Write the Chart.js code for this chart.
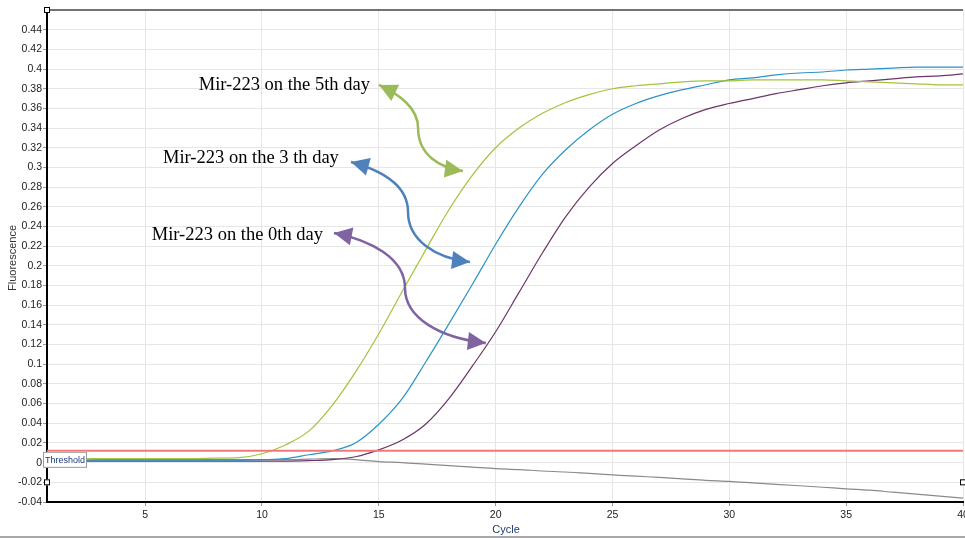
<!DOCTYPE html>
<html>
<head>
<meta charset="utf-8">
<script src="https://cdn.jsdelivr.net/npm/chart.js@4/dist/chart.umd.min.js"></script>
<style>
  html, body { margin: 0; padding: 0; background: #fff; }
  #wrap { width: 965px; height: 538px; }
</style>
</head>
<body>
<div id="wrap"><canvas id="chart" width="965" height="538"></canvas></div>
<script>
// cycles 1..40
const cycles = [1, 2, 3, 4, 5, 6, 7, 8, 9, 10, 11, 12, 13, 14, 15, 16, 17, 18, 19, 20,
    21, 22, 23, 24, 25, 26, 27, 28, 29, 30, 31, 32, 33, 34, 35, 36, 37, 38, 39, 40]

const day5 = [0.004, 0.004, 0.004, 0.004, 0.004, 0.004, 0.004, 0.0045, 0.005, 0.009,
    0.018, 0.032, 0.058, 0.092, 0.131, 0.174, 0.216, 0.257, 0.292, 0.320,
    0.340, 0.355, 0.366, 0.374, 0.380, 0.383, 0.385, 0.387, 0.388, 0.388,
    0.389, 0.389, 0.389, 0.389, 0.388, 0.387, 0.386, 0.385, 0.384, 0.384]

const day3 = [0.0025, 0.0025, 0.0025, 0.0025, 0.0025, 0.0025, 0.0025, 0.0025, 0.0025, 0.003,
    0.004, 0.008, 0.012, 0.020, 0.039, 0.065, 0.102, 0.141, 0.181, 0.222,
    0.260, 0.293, 0.318, 0.338, 0.354, 0.365, 0.373, 0.379, 0.384, 0.389,
    0.391, 0.394, 0.396, 0.397, 0.399, 0.400, 0.401, 0.402, 0.402, 0.402]

const day0 = [0.0015, 0.0015, 0.0015, 0.0015, 0.0015, 0.0015, 0.0015, 0.0015, 0.0015, 0.0015,
    0.0015, 0.002, 0.003, 0.006, 0.013, 0.023, 0.039, 0.065, 0.098, 0.133,
    0.173, 0.213, 0.250, 0.280, 0.304, 0.322, 0.338, 0.350, 0.359, 0.365,
    0.370, 0.375, 0.379, 0.383, 0.386, 0.388, 0.390, 0.392, 0.393, 0.395]

const blank = [-0.004, 0.001, 0.003, 0.003, 0.003, 0.003, 0.003, 0.003, 0.003, 0.003,
    0.003, 0.0035, 0.004, 0.003, 0.001, 0, -0.0015, -0.003, -0.0045, -0.006,
    -0.007, -0.0085, -0.0095, -0.011, -0.0124, -0.0138, -0.015, -0.0165, -0.018, -0.019,
    -0.0205, -0.022, -0.0235, -0.025, -0.0266, -0.028, -0.030, -0.032, -0.034, -0.036]

const threshold = 0.012

const xTicks = [5, 10, 15, 20, 25, 30, 35, 40]
const yTicks = [-0.04, -0.02, 0, 0.02, 0.04, 0.06, 0.08, 0.1, 0.12, 0.14, 0.16, 0.18, 0.2,
    0.22, 0.24, 0.26, 0.28, 0.3, 0.32, 0.34, 0.36, 0.38, 0.4, 0.42, 0.44]

// annotation labels and arrows, in (cycle, fluorescence) units
// each arrow: start, ctrl, ctrl, middle, ctrl, ctrl, end (two cubic pieces)
const labels = ["Mir-223 on the 5th day", "Mir-223 on the 3 th day", "Mir-223 on the 0th day"]
const labelAnchors = [[14.62, 0.3787], [13.29, 0.3042], [12.61, 0.2263]]
const arrowColors = ["#9bbb59", "#4f81bd", "#8064a2"]
const arrowPaths = [
    [[15.01, 0.3838], [15.90, 0.3736], [16.68, 0.3604], [16.68, 0.3401], [16.68, 0.3126], [17.62, 0.2994], [18.6, 0.2964]],
    [[13.81, 0.3055], [15.05, 0.2974], [16.25, 0.2822], [16.25, 0.2547], [16.25, 0.2263], [17.40, 0.208], [18.9, 0.2039]],
    [[13.08, 0.2334], [14.62, 0.2263], [16.12, 0.208], [16.12, 0.1775], [16.12, 0.147], [17.62, 0.1267], [19.58, 0.1216]],
]

const tickFont = { family: "'Liberation Sans', Arial, sans-serif", size: 10.5 }

function toPoints(values) {
    return values.map((v, i) => ({ x: cycles[i], y: v }))
}

function drawHead(ctx, tip, from, color) {
    const ang = Math.atan2(tip.y - from.y, tip.x - from.x)
    const len = 18, half = 9
    ctx.save()
    ctx.translate(tip.x, tip.y)
    ctx.rotate(ang)
    ctx.beginPath()
    ctx.moveTo(0, 0)
    ctx.lineTo(-len, -half)
    ctx.lineTo(-len, half)
    ctx.closePath()
    ctx.fillStyle = color
    ctx.fill()
    ctx.restore()
}

const decorations = {
    id: "decorations",
    afterDatasetsDraw(chart) {
        const ctx = chart.ctx
        const { left, right, top } = chart.chartArea
        const xs = chart.scales.x, ys = chart.scales.y

        ctx.save()
        // top border
        ctx.strokeStyle = "#444"
        ctx.lineWidth = 1.5
        ctx.beginPath()
        ctx.moveTo(left, top)
        ctx.lineTo(right, top)
        ctx.stroke()

        // threshold box
        const ty = ys.getPixelForValue(threshold)
        ctx.fillStyle = "#fff"
        ctx.fillRect(left - 4, ty + 1, 44, 16)
        ctx.strokeStyle = "#9a9a9a"
        ctx.lineWidth = 1
        ctx.strokeRect(left - 3.5, ty + 1.5, 43, 15)
        ctx.fillStyle = "#1f3a7a"
        ctx.font = "9px 'Liberation Sans', Arial, sans-serif"
        ctx.textAlign = "left"
        ctx.textBaseline = "middle"
        ctx.fillText("Threshold", left - 2, ty + 9.5)

        // handles
        const handles = [[left, top], [left, ys.getPixelForValue(-0.02)], [right, ys.getPixelForValue(-0.02)]]
        handles.forEach(([hx, hy]) => {
            ctx.fillStyle = "#fff"
            ctx.fillRect(hx - 3, hy - 3, 6, 6)
            ctx.strokeStyle = "#000"
            ctx.strokeRect(hx - 2.5, hy - 2.5, 5, 5)
        })

        // annotation arrows
        arrowPaths.forEach((path, i) => {
            const p = path.map(([c, v]) => ({ x: xs.getPixelForValue(c), y: ys.getPixelForValue(v) }))
            ctx.strokeStyle = arrowColors[i]
            ctx.lineWidth = 2.5
            ctx.beginPath()
            ctx.moveTo(p[0].x, p[0].y)
            ctx.bezierCurveTo(p[1].x, p[1].y, p[2].x, p[2].y, p[3].x, p[3].y)
            ctx.bezierCurveTo(p[4].x, p[4].y, p[5].x, p[5].y, p[6].x, p[6].y)
            ctx.stroke()
            drawHead(ctx, p[0], p[1], arrowColors[i])
            drawHead(ctx, p[6], p[5], arrowColors[i])
        })

        // annotation labels
        ctx.fillStyle = "#000"
        ctx.font = "18.5px 'Liberation Serif', 'Times New Roman', serif"
        ctx.textAlign = "right"
        ctx.textBaseline = "alphabetic"
        labels.forEach((t, i) => {
            ctx.fillText(t, xs.getPixelForValue(labelAnchors[i][0]), ys.getPixelForValue(labelAnchors[i][1]))
        })

        // axis titles
        ctx.font = "11px 'Liberation Sans', Arial, sans-serif"
        ctx.textAlign = "center"
        ctx.textBaseline = "middle"
        ctx.fillStyle = "#1f3a6e"
        ctx.fillText("Cycle", (left + right) / 2 + 1, 530)
        ctx.save()
        ctx.translate(13, 258)
        ctx.rotate(-Math.PI / 2)
        ctx.fillStyle = "#333"
        ctx.fillText("Fluorescence", 0, 0)
        ctx.restore()

        // bottom frame line
        ctx.fillStyle = "#a8a8a8"
        ctx.fillRect(0, 536, 965, 2)
        ctx.restore()
    }
}

const lineStyle = {
    borderWidth: 1.2,
    pointRadius: 0,
    fill: false,
    cubicInterpolationMode: "monotone",
}

new Chart(document.getElementById("chart"), {
    type: "line",
    data: {
        datasets: [
            { label: "5th day", data: toPoints(day5), borderColor: "#a2c43a", order: 2, ...lineStyle },
            { label: "3rd day", data: toPoints(day3), borderColor: "#2c93c6", order: 3, ...lineStyle },
            { label: "0th day", data: toPoints(day0), borderColor: "#6d3568", order: 4, ...lineStyle },
            { label: "blank", data: toPoints(blank), borderColor: "#8a8a8a", order: 5, ...lineStyle },
            {
                label: "Threshold",
                data: [{ x: 0.8, y: threshold }, { x: 40, y: threshold }],
                borderColor: "#f07878", borderWidth: 2, pointRadius: 0, order: 1,
            },
        ],
    },
    options: {
        responsive: false,
        animation: false,
        layout: { padding: { top: 10, right: 2, left: 0, bottom: 0 } },
        plugins: {
            legend: { display: false },
            tooltip: { enabled: false },
        },
        scales: {
            x: {
                type: "linear",
                min: 0.8,
                max: 40,
                afterBuildTicks: (scale) => { scale.ticks = xTicks.map(v => ({ value: v })) },
                afterFit: (scale) => { scale.height = 36; scale.paddingLeft = 0; scale.paddingRight = 0 },
                ticks: { font: tickFont, color: "#222", padding: 3, maxRotation: 0 },
                grid: { color: "#e6e6e6", lineWidth: 1, tickLength: 4, tickColor: "#999" },
                border: { color: "#000", width: 2 },
            },
            y: {
                min: -0.04,
                max: 0.46,
                afterBuildTicks: (scale) => { scale.ticks = yTicks.map(v => ({ value: v })) },
                afterFit: (scale) => { scale.width = 47; scale.paddingTop = 0; scale.paddingBottom = 0 },
                ticks: {
                    font: tickFont, color: "#222", padding: 1,
                    callback: (v) => String(Math.round(v * 100) / 100),
                },
                grid: { color: "#e6e6e6", lineWidth: 1, tickLength: 4, tickColor: "#999" },
                border: { color: "#000", width: 2 },
            },
        },
    },
    plugins: [decorations],
})
</script>
</body>
</html>
